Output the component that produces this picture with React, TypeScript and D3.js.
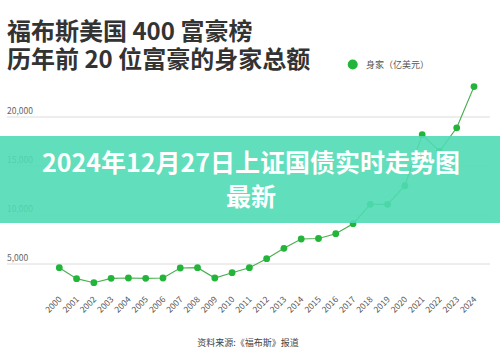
import React from "react";
import * as d3 from "d3";

const years = ["2000","2001","2002","2003","2004","2005","2006","2007","2008","2009","2010","2011","2012","2013","2014","2015","2016","2017","2018","2019","2020","2021","2022","2023","2024"];
const wealth = [4620,3500,3090,3540,3570,3540,3570,4590,4620,3570,4110,4620,5540,6600,7550,7600,8090,9110,11090,11090,12990,18200,16500,18900,23100];
const yTicks = [5000,10000,15000,20000];
const titleLines = ["福布斯美国 400 富豪榜","历年前 20 位富豪的身家总额"];
const legendLabel = "身家（亿美元）";
const sourceText = "资料来源:《福布斯》报道";
const bannerLines = ["2024年12月27日上证国债实时走势图","最新"];

const FONT = "'Noto Sans CJK SC','Noto Sans',sans-serif";

export default function App() {
  const W = 500, H = 358;
  const x = d3.scalePoint<string>().domain(years).range([59.3, 474]);
  const y = d3.scaleLinear().domain([0, 25000]).range([313, 68]);
  const line = d3.line<number>().x((_, i) => x(years[i])!).y(d => y(d));
  const fmt = d3.format(",");
  return (
    <svg width={W} height={H} style={{ position: "absolute", left: 0, top: 0, background: "#fff" }} fontFamily={FONT}>
      <rect width={W} height={H} fill="#fff" />
      {titleLines.map((t, i) => (
        <text key={t} x={7} y={39.5 + i * 28.5} fontSize={24} fontWeight={700} fill="#333">{t}</text>
      ))}
      <circle cx={352.7} cy={64.5} r={5} fill="#22b53a" />
      <text x={366} y={67.5} fontSize={9} fill="#555">{legendLabel}</text>
      {yTicks.map(t => (
        <g key={t}>
          <line x1={7} x2={490} y1={y(t)} y2={y(t)} stroke="#dcdcdc" strokeWidth={1} />
          <text x={7} y={y(t) - 3} fontSize={8.5} fill="#666">{fmt(t)}</text>
        </g>
      ))}
      <path d={line(wealth)!} fill="none" stroke="#4caf50" strokeWidth={1.2} />
      {wealth.map((v, i) => (
        <circle key={years[i]} cx={x(years[i])} cy={y(v)} r={3.4} fill="#22b53a" />
      ))}
      {years.map(yr => (
        <text key={yr} transform={`translate(${x(yr)! + 3},${300}) rotate(-45)`} textAnchor="end" fontSize={8.5} fill="#555">{yr}</text>
      ))}
      <text x={248} y={346} textAnchor="middle" fontSize={9} fill="#444">{sourceText}</text>
      <rect x={0} y={136} width={W} height={87} fill="rgb(80,218,180)" opacity={0.9} />
      {bannerLines.map((t, i) => (
        <text key={t} x={251} y={172 + i * 33.5} textAnchor="middle" fontSize={25} fontWeight={700} fill="#fff">{t}</text>
      ))}
    </svg>
  );
}
